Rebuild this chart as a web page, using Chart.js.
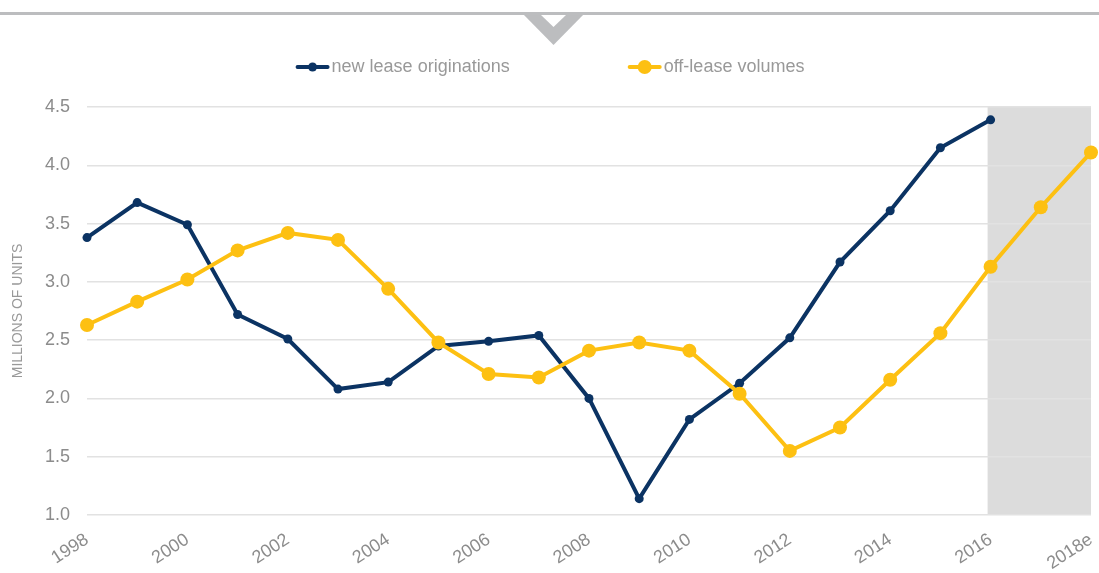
<!DOCTYPE html>
<html lang="en">
<head>
    <meta charset="UTF-8">
    <title>Lease originations and off-lease volumes</title>
    <script src="https://cdn.jsdelivr.net/npm/chart.js"></script>
    <style>
        html, body { margin: 0; padding: 0; background: #fff; }
        #wrap { position: relative; width: 1099px; height: 573px; }
    </style>
</head>
<body>
    <div id="wrap"><canvas id="leaseChart"></canvas></div>

    <script>
        // Years on the x axis (2018 is an estimate)
        const years = ['1998', '1999', '2000', '2001', '2002', '2003', '2004', '2005', '2006', '2007',
                       '2008', '2009', '2010', '2011', '2012', '2013', '2014', '2015', '2016', '2017', '2018e'];

        // Millions of units
        const newLeaseOriginations = [3.38, 3.68, 3.49, 2.72, 2.51, 2.08, 2.14, 2.45, 2.49, 2.54,
                                      2.00, 1.14, 1.82, 2.13, 2.52, 3.17, 3.61, 4.15, 4.39, null, null];
        const offLeaseVolumes = [2.63, 2.83, 3.02, 3.27, 3.42, 3.36, 2.94, 2.48, 2.21, 2.18,
                                 2.41, 2.48, 2.41, 2.04, 1.55, 1.75, 2.16, 2.56, 3.13, 3.64, 4.11];

        const yTicks = [1.0, 1.5, 2.0, 2.5, 3.0, 3.5, 4.0, 4.5];
        const forecastFrom = '2016';

        const NAVY = '#0b3363';
        const GOLD = '#fdc012';
        const GREY_TEXT = '#8c8c8c';
        const FONT = '"Liberation Sans", Arial, sans-serif';

        // grey band behind the projected years, under the grid lines
        const forecastBand = {
            id: 'forecastBand',
            beforeDraw(chart) {
                const {ctx, chartArea, scales} = chart;
                const x0 = scales.x.getPixelForValue(years.indexOf(forecastFrom)) - 3;
                ctx.save();
                ctx.fillStyle = '#dcdcdc';
                ctx.fillRect(x0, chartArea.top, chartArea.right - x0, chartArea.bottom - chartArea.top);
                ctx.restore();
            }
        };

        // top rule with the chevron, plus the line/dot legend
        const header = {
            id: 'header',
            afterDraw(chart) {
                const {ctx, width} = chart;
                ctx.save();
                ctx.fillStyle = '#bcbdbf';
                ctx.fillRect(0, 12, width, 3);
                ctx.beginPath();
                ctx.moveTo(522, 13);
                ctx.lineTo(585, 13);
                ctx.lineTo(553.5, 45);
                ctx.closePath();
                ctx.fill();
                ctx.fillStyle = '#fff';
                ctx.beginPath();
                ctx.moveTo(541, 15);
                ctx.lineTo(566, 15);
                ctx.lineTo(553.5, 27);
                ctx.closePath();
                ctx.fill();

                const items = [
                    {text: 'new lease originations', color: NAVY, r: 4.5},
                    {text: 'off-lease volumes', color: GOLD, r: 7}
                ];
                const markW = 34, gap = 2, spacing = 118, y = 67;
                ctx.font = '18px ' + FONT;
                const widths = items.map(it => markW + gap + ctx.measureText(it.text).width);
                let x = 550 - (widths[0] + spacing + widths[1]) / 2;
                items.forEach((it, i) => {
                    ctx.strokeStyle = it.color;
                    ctx.lineWidth = 4;
                    ctx.lineCap = 'round';
                    ctx.beginPath();
                    ctx.moveTo(x + 2, y);
                    ctx.lineTo(x + markW - 2, y);
                    ctx.stroke();
                    ctx.fillStyle = it.color;
                    ctx.beginPath();
                    ctx.arc(x + markW / 2, y, it.r, 0, Math.PI * 2);
                    ctx.fill();
                    ctx.fillStyle = '#999999';
                    ctx.textBaseline = 'middle';
                    ctx.fillText(it.text, x + markW + gap, y);
                    x += widths[i] + spacing;
                });
                ctx.restore();
            }
        };

        new Chart(document.getElementById('leaseChart'), {
            type: 'line',
            data: {
                labels: years,
                datasets: [{
                    label: 'new lease originations',
                    data: newLeaseOriginations,
                    borderColor: NAVY,
                    backgroundColor: NAVY,
                    borderWidth: 4,
                    pointRadius: 4.5,
                    pointBorderWidth: 0,
                    pointBackgroundColor: NAVY,
                    tension: 0,
                    clip: false,
                    order: 2
                }, {
                    label: 'off-lease volumes',
                    data: offLeaseVolumes,
                    borderColor: GOLD,
                    backgroundColor: GOLD,
                    borderWidth: 4,
                    pointRadius: 7,
                    pointBorderWidth: 0,
                    pointBackgroundColor: GOLD,
                    tension: 0,
                    clip: false,
                    order: 1
                }]
            },
            options: {
                responsive: true,
                maintainAspectRatio: false,
                animation: false,
                layout: { padding: { top: 107, left: 10, right: 8, bottom: 0 } },
                plugins: {
                    legend: { display: false },
                    tooltip: { enabled: false }
                },
                scales: {
                    x: {
                        offset: false,
                        grid: { display: false },
                        border: { display: false },
                        ticks: {
                            autoSkip: false,
                            minRotation: 33,
                            maxRotation: 33,
                            padding: 6,
                            color: GREY_TEXT,
                            font: { family: FONT, size: 18 },
                            callback: (v, i) => (i % 2 === 0 ? years[i] : '')
                        },
                        // keep the rotated labels from pushing the plot inwards
                        afterFit: axis => {
                            axis.height = 58;
                            axis.paddingLeft = 0;
                            axis.paddingRight = 0;
                        }
                    },
                    y: {
                        min: yTicks[0],
                        max: yTicks[yTicks.length - 1],
                        afterBuildTicks: axis => { axis.ticks = yTicks.map(v => ({value: v})); },
                        afterFit: axis => { axis.width = 77; },
                        grid: { color: '#e2e2e2', lineWidth: 1.5, drawTicks: false },
                        border: { display: false },
                        ticks: {
                            padding: 17,
                            color: GREY_TEXT,
                            font: { family: FONT, size: 18 },
                            callback: v => v.toFixed(1)
                        },
                        title: {
                            display: true,
                            text: 'MILLIONS OF UNITS',
                            color: '#999999',
                            font: { family: FONT, size: 14 },
                            padding: { top: 0, bottom: 18 }
                        }
                    }
                }
            },
            plugins: [forecastBand, header]
        });
    </script>
</body>
</html>
